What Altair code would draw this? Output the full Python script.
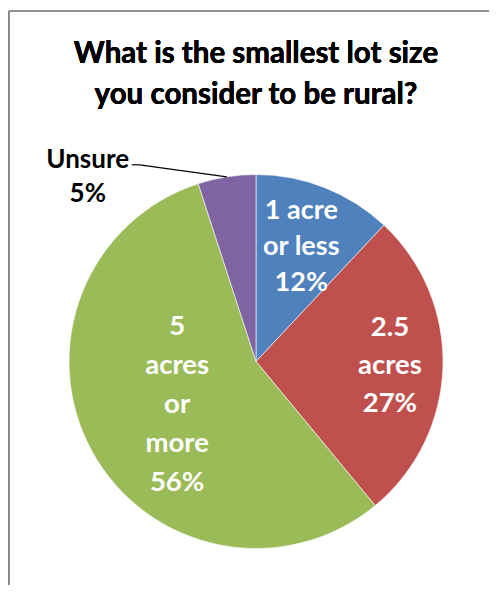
import altair as alt
import pandas as pd

# ---- data ----
categories = ["1 acre or less", "2.5 acres", "5 acres or more", "Unsure"]
values = [12, 27, 56, 5]
label_names = ["1 acre\nor less", "2.5\nacres", "5\nacres\nor\nmore", "Unsure"]
colors = ["#4F81BD", "#C0504D", "#9BBB59", "#8064A2"]
title_text = "What is the smallest lot size\nyou consider to be rural?"

df = pd.DataFrame({
    "category": categories,
    "value": values,
    "name": label_names,
    "order": list(range(len(categories))),
})

FONT = "Lato"
W, H = 466, 440
PAD = {"left": 15, "top": 133.5, "right": 0, "bottom": 3}
R = 187

base = alt.Chart(df).transform_calculate(
    label="datum.name + '\\n' + datum.value + '%'"
).encode(
    theta=alt.Theta("value:Q", stack=True),
    order=alt.Order("order:Q"),
)

pie = base.mark_arc(radius=R, stroke="#ffffff", strokeWidth=0.6).encode(
    color=alt.Color("category:N", scale=alt.Scale(domain=categories, range=colors), legend=None)
)


def slice_label(cat, radius, line_h, n_lines, color="white", size=27, dx=0):
    # vega draws the first line at the anchor: shift block up so it is centred
    return base.mark_text(
        radius=radius, font=FONT, fontWeight="bold", fontSize=size,
        lineBreak="\n", lineHeight=line_h, color=color,
        align="center", baseline="middle", dx=dx, dy=-(n_lines - 1) * line_h / 2,
    ).encode(
        text=alt.condition(f"datum.category == '{cat}'", alt.Text("label:N"), alt.value(""))
    )


lab_blue = slice_label(categories[0], 123, 36, 3)
lab_red = slice_label(categories[1], 134, 38, 3, size=27.5)
lab_green = slice_label(categories[2], 90, 39, 5, size=27.5)
lab_unsure = slice_label(categories[3], R, 34, 2, color="black", size=26, dx=-139)

# leader line for the outside label, from the slice edge at its mid angle
leader_src = alt.Chart(df).transform_joinaggregate(
    total="sum(value)"
).transform_window(
    cum="sum(value)", sort=[alt.SortField("order")], frame=[None, 0]
).transform_calculate(
    mid="2*PI*(datum.cum - datum.value/2)/datum.total"
).transform_filter(
    alt.datum.category == categories[3]
).transform_calculate(
    px=f"width/2 + {R}*sin(datum.mid)",
    py=f"height/2 - {R}*cos(datum.mid)",
).transform_calculate(
    qx="datum.px - 87",
    qy="datum.py - 12",
).transform_calculate(
    hx="datum.qx - 8",
)

leader1 = leader_src.mark_rule(color="black", strokeWidth=1.2).encode(
    x=alt.X("px:Q", scale=None, axis=None),
    y=alt.Y("py:Q", scale=None, axis=None),
    x2="qx:Q",
    y2="qy:Q",
)
leader2 = leader_src.mark_rule(color="black", strokeWidth=1.2).encode(
    x=alt.X("qx:Q", scale=None, axis=None),
    y=alt.Y("qy:Q", scale=None, axis=None),
    x2="hx:Q",
)

# chart title (drawn as text so the frame lines do not push it away)
title = alt.Chart(df).mark_text(
    font=FONT, fontWeight="bold", fontSize=29.5, color="black",
    align="center", baseline="alphabetic", lineBreak="\n", lineHeight=41,
).encode(
    x=alt.value(W / 2), y=alt.value(-79), text=alt.value(title_text)
)

# chart frame (top and left edges)
frame_top = alt.Chart(df).mark_rule(color="#888888", strokeWidth=1).encode(
    x=alt.value(-14), x2=alt.value(W + PAD["right"]), y=alt.value(-130.5)
)
frame_left = alt.Chart(df).mark_rule(color="#888888", strokeWidth=1.5).encode(
    x=alt.value(-14), y=alt.value(-130.5), y2=alt.value(H + PAD["bottom"])
)

chart = alt.layer(
    pie, lab_blue, lab_red, lab_green, leader1, leader2, lab_unsure,
    title, frame_top, frame_left
).properties(
    width=W,
    height=H,
    padding=PAD,
    autosize=alt.AutoSizeParams(type="none"),
).configure_view(stroke=None)

chart.save("out.html", embed_options={"renderer": "svg", "actions": False})
